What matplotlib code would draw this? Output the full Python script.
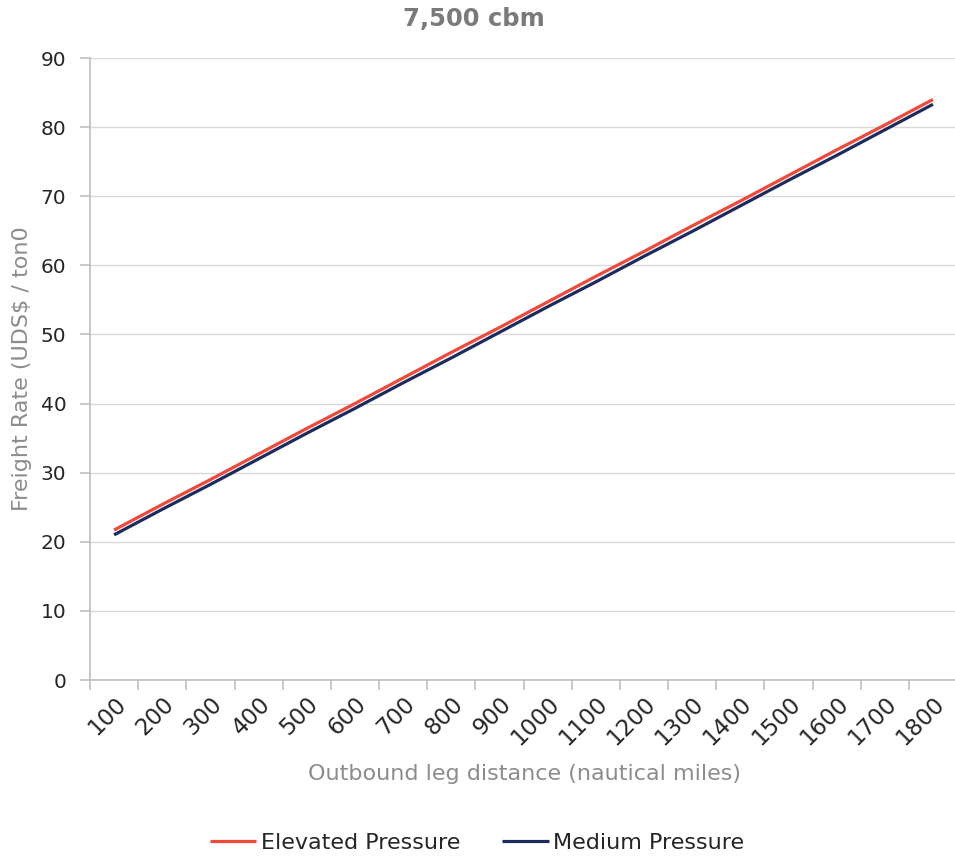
import matplotlib
matplotlib.use("Agg")
import matplotlib.pyplot as plt
from matplotlib.ticker import FixedLocator, NullFormatter

categories = ["100", "200", "300", "400", "500", "600", "700", "800", "900",
              "1000", "1100", "1200", "1300", "1400", "1500", "1600", "1700", "1800"]
elevated = [21.7, 25.4, 29.0, 32.7, 36.4, 40.0, 43.7, 47.4, 51.0,
            54.7, 58.4, 62.0, 65.7, 69.3, 73.0, 76.7, 80.3, 84.0]
medium = [21.0, 24.7, 28.3, 32.0, 35.7, 39.3, 43.0, 46.6, 50.3,
          54.0, 57.6, 61.3, 64.9, 68.6, 72.3, 75.9, 79.6, 83.3]
yticks = [0, 10, 20, 30, 40, 50, 60, 70, 80, 90]

W, H = 955, 858
fig = plt.figure(figsize=(W / 100, H / 100), dpi=100)
left, right, top, bottom = 90, 957, 58, 680
ax = fig.add_axes([left / W, 1 - bottom / H, (right - left) / W, (bottom - top) / H])

x = list(range(len(categories)))
ax.plot(x, elevated, color="#F0493A", lw=2.3, label="Elevated Pressure", solid_capstyle="butt", zorder=3)
ax.plot(x, medium, color="#1C2B5E", lw=2.3, label="Medium Pressure", solid_capstyle="butt", zorder=3)

ax.set_xlim(-0.5, len(categories) - 0.5)
ax.set_ylim(0, 90)
ax.set_yticks(yticks)
ax.yaxis.grid(True, color="#d9d9d9", lw=1)
ax.set_axisbelow(True)

# category boundaries as tick marks, labels at centers
ax.xaxis.set_major_locator(FixedLocator([i - 0.5 for i in range(len(categories) + 1)]))
ax.xaxis.set_major_formatter(NullFormatter())
ax.xaxis.set_minor_locator(FixedLocator(x))
ax.set_xticklabels(categories, minor=True)
ax.tick_params(axis="x", which="minor", length=0, pad=9)
ax.tick_params(axis="x", which="major", length=7, color="#bfbfbf", width=1.2)
ax.tick_params(axis="y", length=7, color="#bfbfbf", width=1.2, pad=10)

tick_font = "DejaVu Sans"
for lab in ax.get_xticklabels(minor=True):
    lab.set_rotation(45)
    lab.set_ha("right")
    lab.set_va("top")
    lab.set_rotation_mode("anchor")
    lab.set_fontsize(16.5)
    lab.set_family(tick_font)
    lab.set_color("#262626")
for lab in ax.get_yticklabels():
    lab.set_fontsize(14.5)
    lab.set_family(tick_font)
    lab.set_color("#262626")

for s in ["top", "right"]:
    ax.spines[s].set_visible(False)
for s in ["left", "bottom"]:
    ax.spines[s].set_color("#bfbfbf")
    ax.spines[s].set_linewidth(1.2)

fig.text(474 / W, 1 - 19 / H, "7,500 cbm", ha="center", va="center",
         fontsize=17.5, fontweight="bold", color="#7a7a7a", family="DejaVu Sans")
fig.text(525 / W, 1 - 774 / H, "Outbound leg distance (nautical miles)", ha="center", va="center",
         fontsize=16, color="#8c8c8c", family=tick_font)
fig.text(22 / W, 1 - 369 / H, "Freight Rate (UDS$ / ton0", ha="center", va="center",
         rotation=90, fontsize=16, color="#8c8c8c", family=tick_font)

leg = fig.legend(loc="center", bbox_to_anchor=(477 / W, 1 - 843 / H), ncol=2, frameon=False,
                 prop={"family": tick_font, "size": 16}, handlelength=2.1, handletextpad=0.2,
                 columnspacing=1.9)
for t in leg.get_texts():
    t.set_color("#262626")

fig.savefig("out.png", dpi=100)
